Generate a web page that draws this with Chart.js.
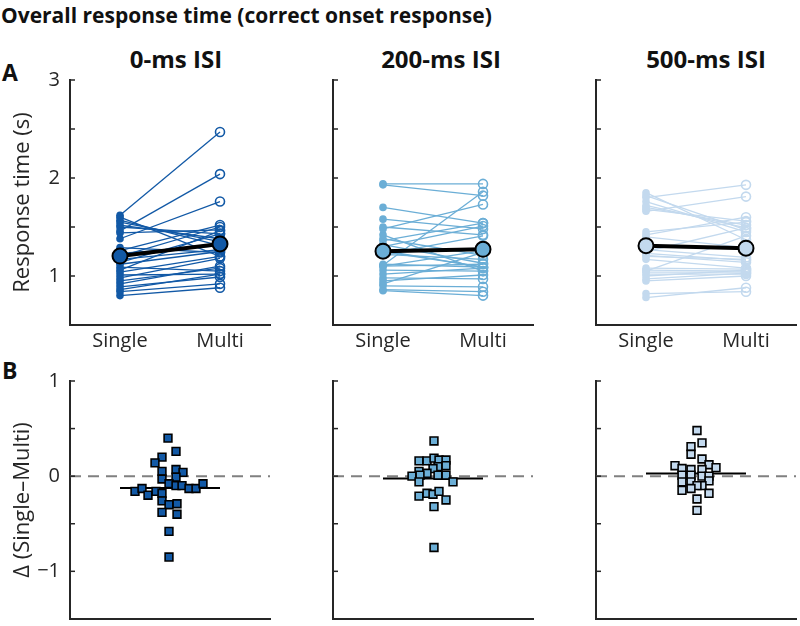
<!DOCTYPE html>
<html>
<head>
<meta charset="utf-8">
<script src="https://cdn.jsdelivr.net/npm/chart.js@4.4.1/dist/chart.umd.min.js"></script>
<style>
  html, body { margin: 0; padding: 0; overflow: hidden; }
  body { width: 800px; height: 626px; position: relative; background: #fff;
         font-family: "Open Sans", sans-serif; color: #111; }
  canvas { position: absolute; }
  .lbl { position: absolute; font-weight: bold; white-space: nowrap; line-height: normal; }
</style>
</head>
<body>
<div class="lbl" style="left:1px; top:1px; font-size:21px;">Overall response time (correct onset response)</div>
<div class="lbl" style="left:2px; top:56px; font-size:23px;">A</div>
<div class="lbl" style="left:2px; top:354px; font-size:23px;">B</div>

<script>
// --- data ---
const conditions = ['0-ms ISI', '200-ms ISI', '500-ms ISI'];
const xLabels = ['Single', 'Multi'];
const topTickLabels = [1, 2, 3];
const bottomTickLabels = [-1, 0, 1];

// response time (s) per subject
const single0 = [1.62, 1.46, 1.38, 1.60, 1.57, 1.55, 1.52, 1.50, 1.44, 1.29, 1.26, 1.23, 1.20, 1.17,
                 1.14, 1.12, 1.09, 1.06, 1.04, 1.01, 0.98, 0.95, 0.92, 0.89, 0.86, 0.84, 0.80];
const multi0  = [2.47, 2.04, 1.76, 1.20, 1.31, 1.35, 1.38, 1.43, 1.47, 1.24, 1.52, 1.31, 1.50, 1.27,
                 1.43, 1.25, 1.05, 1.46, 1.20, 1.02, 1.18, 1.08, 1.10, 0.99, 1.02, 0.92, 0.88];

const single200 = [1.94, 1.93, 1.70, 1.58, 1.50, 1.48, 1.11, 1.38, 1.42, 1.32, 1.36, 1.26, 1.30, 1.22,
                   1.25, 1.22, 1.12, 1.10, 1.06, 1.02, 0.98, 0.95, 0.92, 0.90, 0.86, 0.85, 1.10];
const multi200  = [1.94, 1.82, 1.54, 1.48, 1.42, 1.73, 1.86, 1.21, 1.05, 1.13, 1.54, 1.09, 1.51, 1.17,
                   1.09, 1.41, 1.09, 1.26, 1.05, 1.08, 0.97, 1.01, 1.24, 0.89, 0.84, 0.80, 1.12];

const single500 = [1.80, 1.66, 1.85, 1.82, 1.76, 1.72, 1.70, 1.68, 1.45, 1.42, 1.40, 1.27, 1.25, 1.23,
                   1.21, 1.05, 1.17, 1.08, 1.06, 1.04, 1.02, 1.00, 0.97, 0.95, 0.78, 0.82, 1.20];
const multi500  = [1.93, 1.81, 1.37, 1.47, 1.45, 1.49, 1.52, 1.56, 1.55, 1.60, 1.29, 1.19, 1.49, 1.16,
                   1.14, 1.41, 1.08, 1.07, 1.05, 1.04, 1.02, 1.06, 1.03, 1.00, 0.88, 0.84, 1.17];

// single - multi difference, with the horizontal spread of each marker
const delta0 = [0.40, 0.26, 0.20, 0.14, 0.07, 0.05, 0.04, -0.03, -0.01, -0.08, -0.10, -0.10, -0.13, -0.13,
                -0.08, -0.16, -0.13, -0.20, -0.16, -0.18, -0.26, -0.30, -0.29, -0.38, -0.40, -0.58, -0.85];
const spread0 = [1.48, 1.56, 1.42, 1.35, 1.56, 1.42, 1.63, 1.42, 1.56, 1.49, 1.56, 1.62, 1.69, 1.76,
                 1.83, 1.15, 1.22, 1.28, 1.36, 1.42, 1.42, 1.49, 1.57, 1.42, 1.57, 1.49, 1.49];

const delta200 = [0.37, 0.16, 0.16, 0.19, 0.17, 0.17, 0.10, 0.11, 0.08, 0.05, 0.03, 0.01, 0.00, 0.01,
                  0.01, -0.06, -0.06, -0.21, -0.18, -0.19, -0.16, -0.25, -0.32, -0.75];
const spread200 = [1.51, 1.36, 1.44, 1.51, 1.56, 1.63, 1.55, 1.63, 1.50, 1.36, 1.44, 1.55, 1.29, 1.37,
                   1.63, 1.36, 1.70, 1.36, 1.44, 1.50, 1.56, 1.63, 1.51, 1.51];

const delta500 = [0.48, 0.35, 0.31, 0.23, 0.18, 0.12, 0.11, 0.08, 0.07, 0.07, 0.09, 0.01, 0.01, 0.00,
                  0.00, -0.06, -0.06, -0.05, -0.10, -0.10, -0.15, -0.13, -0.18, -0.24, -0.36];
const spread500 = [1.51, 1.56, 1.45, 1.45, 1.56, 1.63, 1.29, 1.36, 1.45, 1.56, 1.70, 1.36, 1.45, 1.56,
                   1.63, 1.36, 1.45, 1.63, 1.56, 1.51, 1.36, 1.45, 1.63, 1.51, 1.51];

const singles = [single0, single200, single500];
const multis = [multi0, multi200, multi500];
const deltas = [delta0, delta200, delta500];
const spreads = [spread0, spread200, spread500];

// --- look ---
const colors = ['#1259a6', '#6baed6', '#c3d9ee'];
const axisColor = '#262626';
const family = '"Open Sans", sans-serif';
const xMin = 0.5, xMax = 2.5;
const panelLeft = [70, 333, 596];
const panelWidth = 200;
const titleCenter = [176, 441, 706];
const topRow = { top: 80, height: 245, xAxis: 40, yMin: 0.5, yMax: 3 };
const bottomRow = { top: 381, height: 242, xAxis: 3, yMin: -1.5, yMax: 1 };
const yAxisWidth = 60, padTop = 16, padRight = 12;

const mean = a => a.reduce((s, v) => s + v, 0) / a.length;
const fmt = v => (v < 0 ? '\u2212' + Math.abs(v) : String(v));

// MATLAB style ticks pointing into the plot
const inwardTicks = {
  id: 'inwardTicks',
  afterDraw(chart) {
    const ys = chart.scales.y, area = chart.chartArea, ctx = chart.ctx;
    ctx.save();
    ctx.strokeStyle = axisColor;
    ctx.lineWidth = 1.5;
    ys.ticks.forEach(t => {
      const p = ys.getPixelForValue(t.value);
      ctx.beginPath();
      ctx.moveTo(area.left, p);
      ctx.lineTo(area.left + 5, p);
      ctx.stroke();
    });
    ctx.restore();
  }
};

function addCanvas(i, row) {
  const cv = document.createElement('canvas');
  const w = yAxisWidth + panelWidth + padRight;
  const h = padTop + row.height + row.xAxis;
  cv.width = w; cv.height = h;
  cv.style.width = w + 'px'; cv.style.height = h + 'px';
  cv.style.left = (panelLeft[i] - yAxisWidth) + 'px';
  cv.style.top = (row.top - padTop) + 'px';
  document.body.appendChild(cv);
  return cv;
}

function scaleOptions(i, row, tickLabels, yTitle, showX) {
  return {
    x: {
      type: 'linear', min: xMin, max: xMax,
      grid: { display: false, drawTicks: false },
      border: { display: true, color: axisColor, width: 2 },
      afterBuildTicks: s => { s.ticks = showX ? [{ value: 1 }, { value: 2 }] : []; },
      ticks: {
        display: showX, autoSkip: false, maxRotation: 0, padding: 4, color: axisColor,
        font: { family, size: 20 },
        callback: v => xLabels[v - 1]
      },
      afterFit: s => { s.height = row.xAxis; s.paddingLeft = 0; s.paddingRight = 0; }
    },
    y: {
      min: row.yMin, max: row.yMax,
      grid: { display: false, drawTicks: false },
      border: { display: true, color: axisColor, width: 2 },
      ticks: {
        stepSize: 0.5, padding: 10, color: axisColor,
        font: { family, size: 20 },
        callback: v => (i === 0 && tickLabels.some(t => Math.abs(t - v) < 1e-9)) ? fmt(v) : ''
      },
      title: {
        display: i === 0, text: yTitle, color: axisColor,
        font: { family, size: 22 }, padding: { top: 0, bottom: 0 }
      },
      afterFit: s => { s.width = yAxisWidth; s.paddingTop = 0; s.paddingBottom = 0; }
    }
  };
}

const baseOptions = {
  responsive: false, animation: false, devicePixelRatio: 1,
  layout: { padding: { top: padTop, right: padRight, left: 0, bottom: 0 } },
  plugins: { legend: { display: false }, tooltip: { enabled: false } }
};

for (let i = 0; i < 3; i++) {
  const c = colors[i];

  // panel title
  const t = document.createElement('div');
  t.className = 'lbl';
  t.textContent = conditions[i];
  t.style.fontSize = '24px';
  t.style.top = '42px';
  t.style.left = titleCenter[i] + 'px';
  t.style.transform = 'translateX(-50%)';
  document.body.appendChild(t);

  // row A: paired response times
  const single = singles[i], multi = multis[i];
  const pairSets = single.map((s, k) => ({
    data: [{ x: 1, y: s }, { x: 2, y: multi[k] }],
    showLine: true, borderColor: c, borderWidth: 1.3,
    pointRadius: [3.8, 4.5], pointBorderWidth: [0, 1.6],
    pointBackgroundColor: [c, 'rgba(0,0,0,0)'], pointBorderColor: c,
    order: 1, clip: false
  }));
  const meanSet = {
    data: [{ x: 1, y: mean(single) }, { x: 2, y: mean(multi) }],
    showLine: true, borderColor: '#000', borderWidth: 4,
    pointRadius: 7.5, pointBackgroundColor: c, pointBorderColor: '#000', pointBorderWidth: 2,
    order: 0, clip: false
  };
  new Chart(addCanvas(i, topRow), {
    type: 'scatter',
    data: { datasets: [meanSet, ...pairSets] },
    options: { ...baseOptions, scales: scaleOptions(i, topRow, topTickLabels, 'Response time (s)', true) },
    plugins: [inwardTicks]
  });

  // row B: differences
  const d = deltas[i], sp = spreads[i];
  const m = mean(d);
  new Chart(addCanvas(i, bottomRow), {
    type: 'scatter',
    data: {
      datasets: [
        {
          data: d.map((v, k) => ({ x: sp[k], y: v })),
          pointStyle: 'rect', pointRadius: 5.5, pointBackgroundColor: c,
          pointBorderColor: '#000', pointBorderWidth: 1.6, order: 0, clip: false
        },
        {
          data: [{ x: 1, y: m }, { x: 2, y: m }],
          showLine: true, borderColor: '#000', borderWidth: 2, pointRadius: 0, order: 1
        },
        {
          data: [{ x: xMin, y: 0 }, { x: xMax, y: 0 }],
          showLine: true, borderColor: '#808080', borderWidth: 2, borderDash: [11, 7],
          pointRadius: 0, order: 2
        }
      ]
    },
    options: { ...baseOptions, scales: scaleOptions(i, bottomRow, bottomTickLabels, '\u0394 (Single\u2013Multi)', false) },
    plugins: [inwardTicks]
  });
}
</script>
</body>
</html>
